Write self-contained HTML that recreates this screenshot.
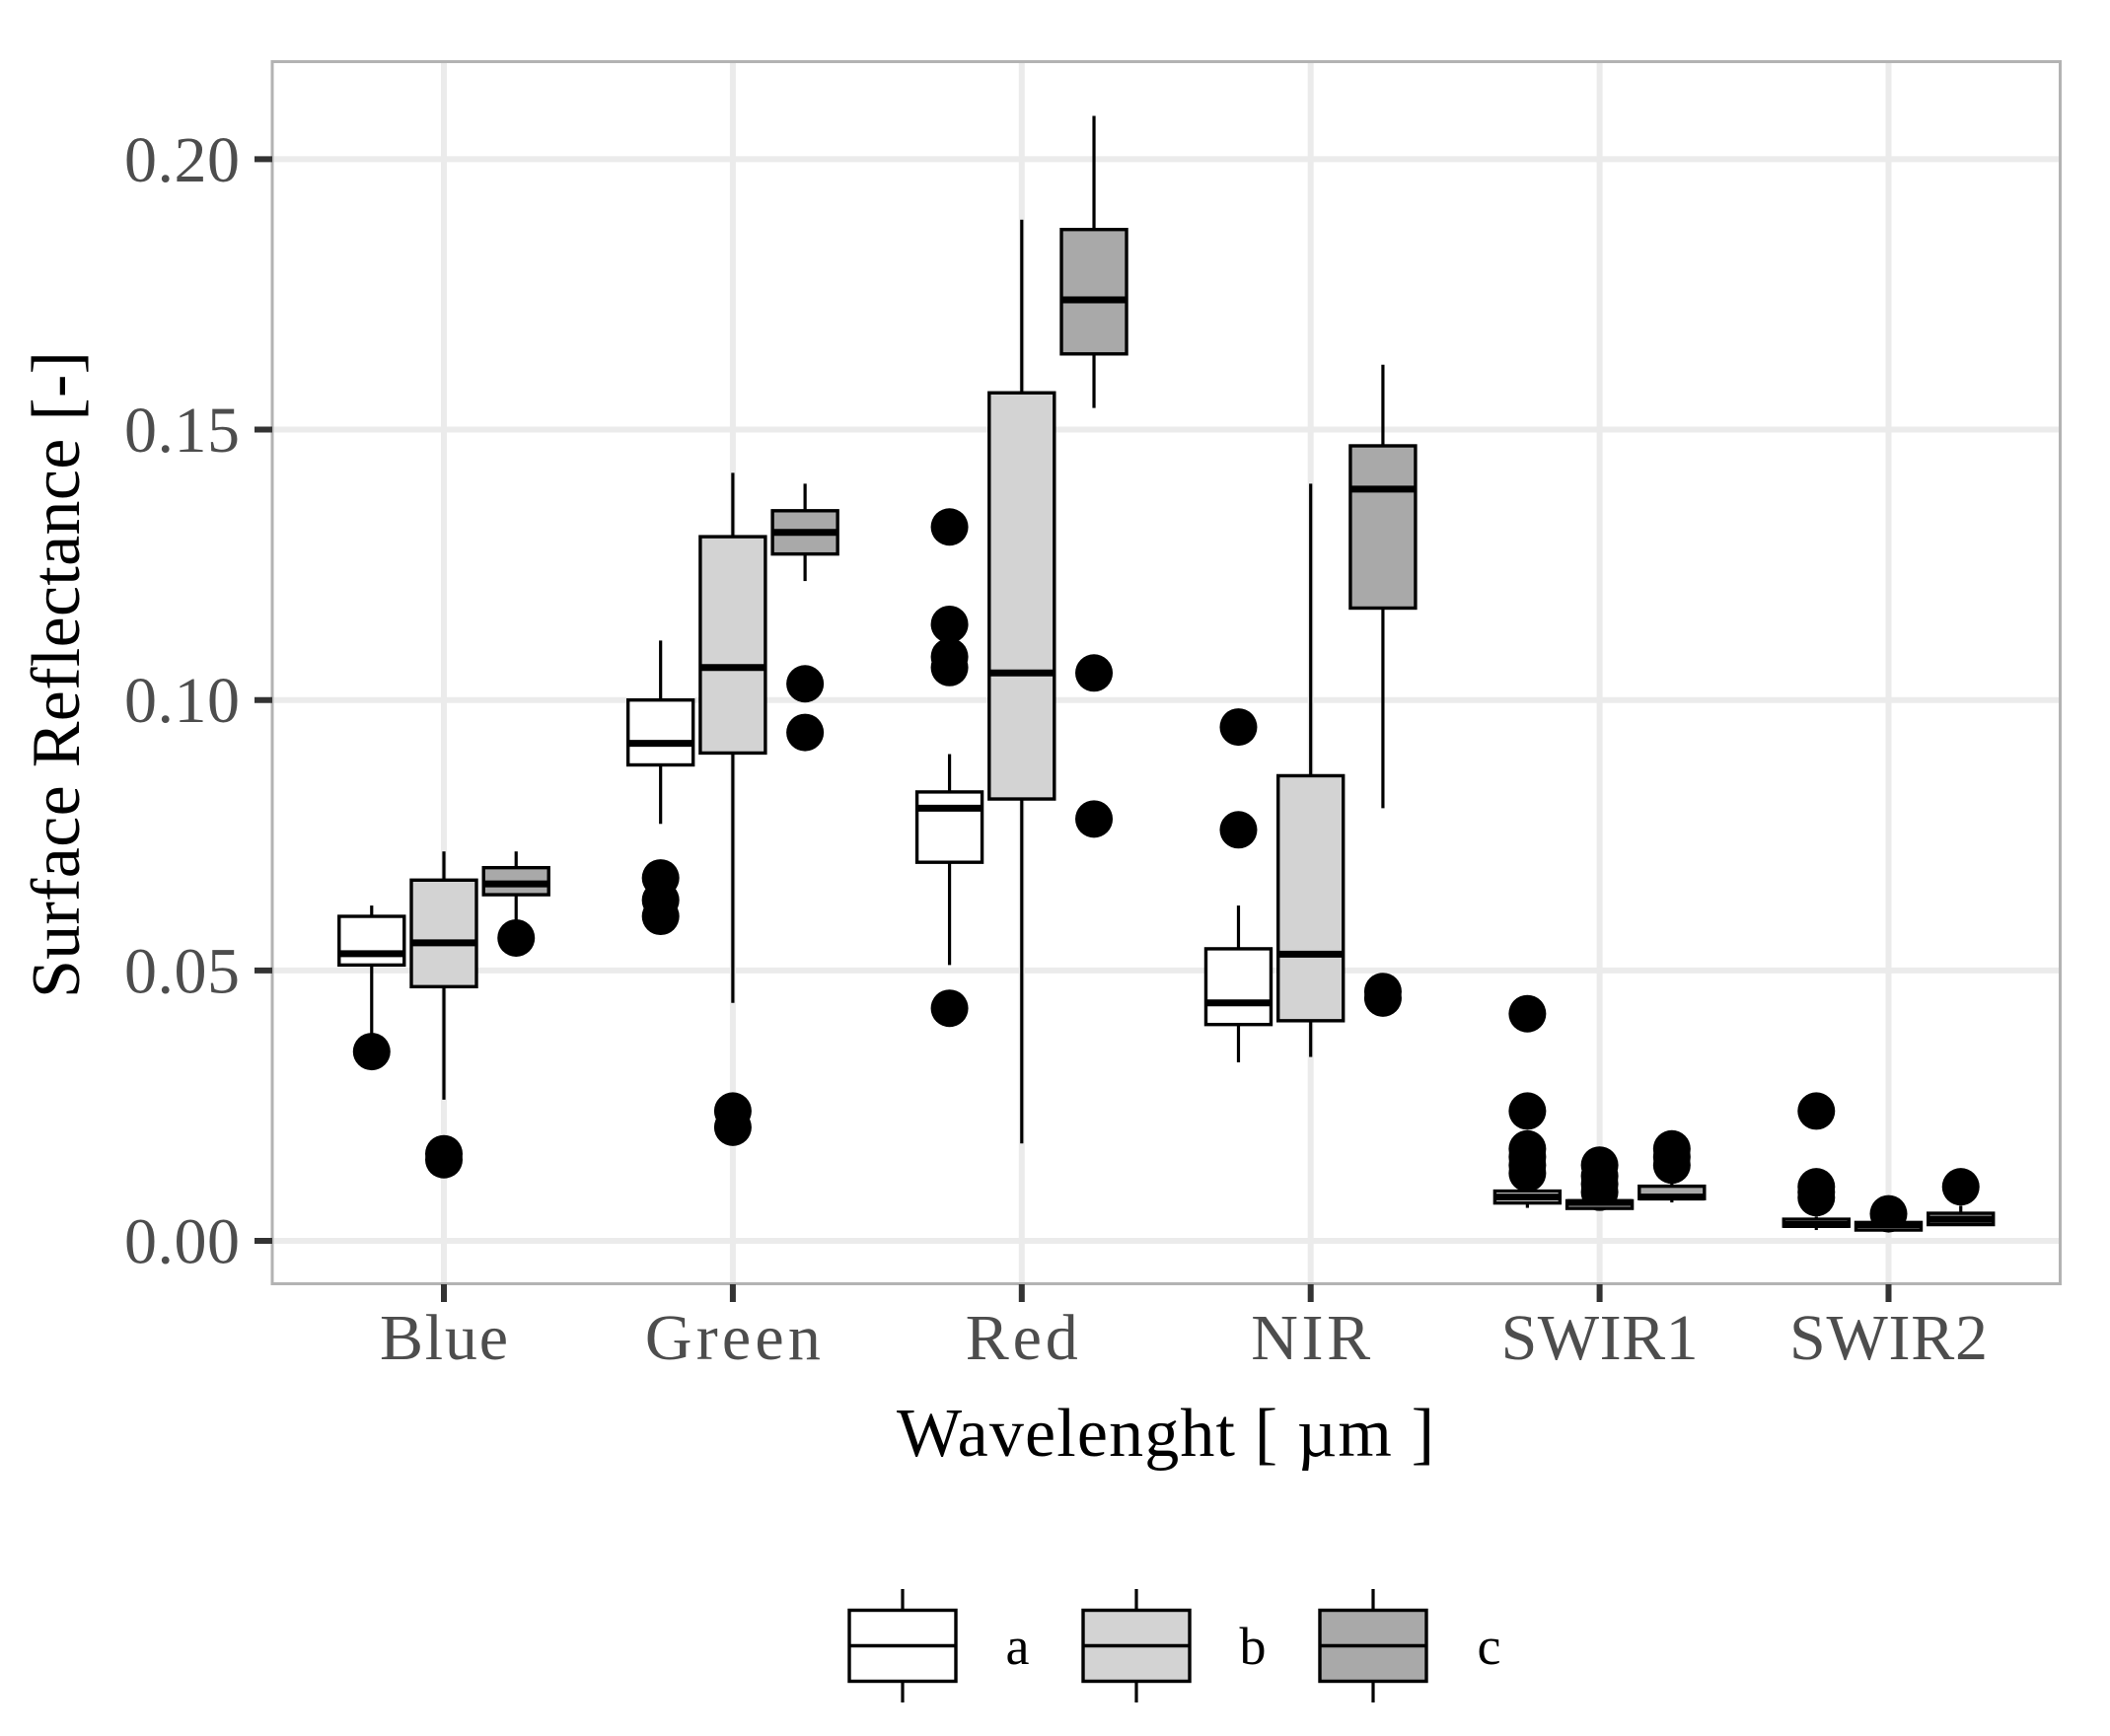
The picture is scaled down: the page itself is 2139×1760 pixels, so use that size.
<!DOCTYPE html>
<html lang="en">
<head>
<meta charset="utf-8">
<title>Surface Reflectance by Wavelength</title>
<style>
  html, body { margin: 0; padding: 0; background: #ffffff; }
  svg { display: block; }
  text { font-family: "Liberation Serif", serif; }
</style>
</head>
<body>
<svg id="chart" xmlns="http://www.w3.org/2000/svg" width="2139" height="1760" viewBox="0 0 2139 1760">
  <rect x="0" y="0" width="2139" height="1760" fill="#ffffff"/>
  <g id="grid"></g>
  <g id="marks"></g>
  <rect x="276" y="62.5" width="1812.5" height="1239" fill="none" stroke="#b3b3b3" stroke-width="3"/>
  <g id="axes"></g>
  <text transform="translate(80,684) rotate(-90)" text-anchor="middle" font-size="70" fill="#000000" textLength="656" lengthAdjust="spacing">Surface Reflectance [-]</text>
  <text x="1181.5" y="1476" text-anchor="middle" font-size="70" fill="#000000" textLength="545" lengthAdjust="spacing">Wavelenght [ µm ]</text>
  <g id="legend"></g>
</svg>
<script>
const categories = ['Blue', 'Green', 'Red', 'NIR', 'SWIR1', 'SWIR2'];
const groups = ['a', 'b', 'c'];
const groupFills = ['#ffffff', '#d3d3d3', '#a9a9a9'];
const yTicks = [0, 0.05, 0.10, 0.15, 0.20];
const yTickLabels = ['0.00', '0.05', '0.10', '0.15', '0.20'];

// Each row is one category, each column one group (a, b, c).
const whiskerHigh = [
  [0.062, 0.072, 0.072],
  [0.111, 0.142, 0.140],
  [0.090, 0.1888, 0.208],
  [0.062, 0.140, 0.162],
  [0.0105, 0.0085, 0.012],
  [0.0045, 0.0035, 0.0065]
];
const q3 = [
  [0.060, 0.0667, 0.069],
  [0.100, 0.1302, 0.135],
  [0.083, 0.1568, 0.187],
  [0.054, 0.086, 0.147],
  [0.0092, 0.0074, 0.0101],
  [0.004, 0.0034, 0.0051]
];
const medians = [
  [0.0531, 0.0551, 0.066],
  [0.092, 0.106, 0.131],
  [0.080, 0.105, 0.174],
  [0.044, 0.053, 0.139],
  [0.0081, 0.0071, 0.0081],
  [0.003, 0.003, 0.004]
];
const q1 = [
  [0.051, 0.047, 0.064],
  [0.088, 0.0902, 0.127],
  [0.070, 0.0817, 0.164],
  [0.040, 0.0407, 0.117],
  [0.007, 0.006, 0.0078],
  [0.0027, 0.002, 0.003]
];
const whiskerLow = [
  [0.037, 0.0261, 0.059],
  [0.0771, 0.044, 0.122],
  [0.051, 0.018, 0.154],
  [0.033, 0.034, 0.080],
  [0.0061, 0.0056, 0.0071],
  [0.002, 0.0018, 0.003]
];
const outliers = [
  [[0.035], [0.0161, 0.015], [0.056]],
  [[0.0671, 0.063, 0.060], [0.024, 0.021], [0.103, 0.094]],
  [[0.132, 0.114, 0.108, 0.106, 0.043], [], [0.105, 0.078]],
  [[0.095, 0.076], [], [0.0461, 0.0449]],
  [[0.042, 0.024, 0.017, 0.0155, 0.014, 0.0125], [0.014, 0.012, 0.0105, 0.009], [0.017, 0.0155, 0.014]],
  [[0.024, 0.010, 0.009, 0.008], [0.005], [0.010]]
];

const SVG_NS = 'http://www.w3.org/2000/svg';
const panel = { left: 276, right: 2089, top: 62, bottom: 1302 };
const y0Pixel = 1258;
const yPixelsPerUnit = 5483;
const x0Pixel = 450;
const xPixelsPerCategory = 292.9;
const dodgeUnits = 0.25;
const boxHalfWidth = 33;
const pointRadius = 19;

function yScale(value) { return y0Pixel - value * yPixelsPerUnit; }
function xScale(categoryIndex) { return x0Pixel + categoryIndex * xPixelsPerCategory; }
function xDodged(categoryIndex, groupIndex) {
  return xScale(categoryIndex) + (groupIndex - 1) * dodgeUnits * xPixelsPerCategory;
}
function make(tag, parent, props, text) {
  const el = document.createElementNS(SVG_NS, tag);
  for (const key in props) { el.setAttribute(key, props[key]); }
  if (text !== undefined) { el.textContent = text; }
  parent.appendChild(el);
  return el;
}

const gridLayer = document.getElementById('grid');
const marksLayer = document.getElementById('marks');
const axesLayer = document.getElementById('axes');
const legendLayer = document.getElementById('legend');
const xLabelLengths = { Blue: 130, Green: 178, Red: 114, NIR: 121, SWIR1: 200, SWIR2: 201 };

yTicks.forEach(function (tick, i) {
  const y = yScale(tick);
  const gridLine = make('line', gridLayer, { x1: panel.left, x2: panel.right, y1: y, y2: y, stroke: '#ebebeb', 'stroke-width': 6 });
  
  
  const tickMark = make('line', axesLayer, { x1: panel.left - 18, x2: panel.left, y1: y, y2: y, stroke: '#333333', 'stroke-width': 6 });
  
  
  const tickLabel = make('text', axesLayer, { x: 243, y: y + 22.5, 'text-anchor': 'end', 'font-size': 66, fill: '#4d4d4d', textLength: 117, lengthAdjust: 'spacing' }, yTickLabels[i]);
  
  
});

categories.forEach(function (category, c) {
  const x = xScale(c);
  const gridLine = make('line', gridLayer, { x1: x, x2: x, y1: panel.top, y2: panel.bottom, stroke: '#ebebeb', 'stroke-width': 6 });
  
  
  const tickMark = make('line', axesLayer, { x1: x, x2: x, y1: panel.bottom, y2: panel.bottom + 18, stroke: '#333333', 'stroke-width': 6 });
  
  
  const tickLabel = make('text', axesLayer, { x: x, y: 1378, 'text-anchor': 'middle', 'font-size': 66, fill: '#4d4d4d', textLength: xLabelLengths[category], lengthAdjust: 'spacing' }, category);
  
  

  groups.forEach(function (group, g) {
    const cx = xDodged(c, g);
    const boxGroup = make('g', marksLayer, {});
    
    

    outliers[c][g].forEach(function (value) {
      const point = make('circle', boxGroup, { cx: cx, cy: yScale(value), r: pointRadius, fill: '#000000' });
      
      
    });

    const upperWhisker = make('line', boxGroup, { x1: cx, x2: cx, y1: yScale(whiskerHigh[c][g]), y2: yScale(q3[c][g]), stroke: '#000000', 'stroke-width': 3.2 });
    
    
    const lowerWhisker = make('line', boxGroup, { x1: cx, x2: cx, y1: yScale(q1[c][g]), y2: yScale(whiskerLow[c][g]), stroke: '#000000', 'stroke-width': 3.2 });
    
    

    const top = yScale(q3[c][g]);
    const box = make('rect', boxGroup, { x: cx - boxHalfWidth, y: top, width: boxHalfWidth * 2, height: yScale(q1[c][g]) - top, fill: groupFills[g], stroke: '#000000', 'stroke-width': 3.4 });
    
    
    const medianY = yScale(medians[c][g]);
    const medianLine = make('line', boxGroup, { x1: cx - boxHalfWidth, x2: cx + boxHalfWidth, y1: medianY, y2: medianY, stroke: '#000000', 'stroke-width': 7 });
    
    
  });
});

const legendKeyCenters = [915, 1152, 1392];
const legendLabelStarts = [1019.5, 1256.5, 1497.5];
groups.forEach(function (group, g) {
  const cx = legendKeyCenters[g];
  const entry = make('g', legendLayer, {});
  
  
  const stem = make('line', entry, { x1: cx, x2: cx, y1: 1611, y2: 1726, stroke: '#000000', 'stroke-width': 3.2 });
  
  
  const keyBox = make('rect', entry, { x: cx - 54, y: 1632.5, width: 108, height: 72, fill: groupFills[g], stroke: '#000000', 'stroke-width': 3.4 });
  
  
  const keyMedian = make('line', entry, { x1: cx - 54, x2: cx + 54, y1: 1668.5, y2: 1668.5, stroke: '#000000', 'stroke-width': 3.4 });
  
  
  const label = make('text', entry, { x: legendLabelStarts[g], y: 1687, 'font-size': 54, fill: '#000000' }, group);
  
  
});
</script>
</body>
</html>
